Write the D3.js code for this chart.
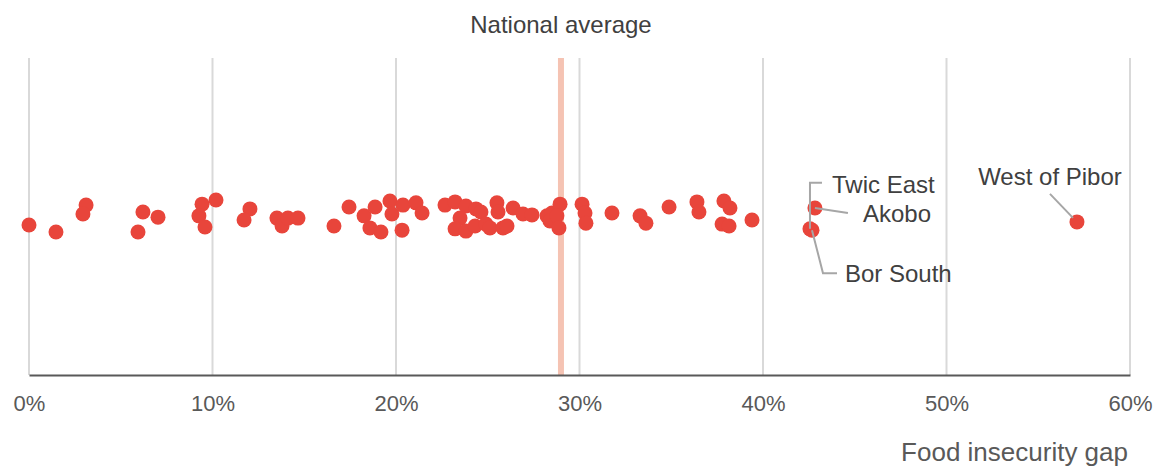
<!DOCTYPE html>
<html><head><meta charset="utf-8">
<script src="https://cdn.jsdelivr.net/npm/d3@7"></script>
<style>body{margin:0;background:#fff}svg{display:block;font-family:"Liberation Sans",Arial,sans-serif}</style>
</head><body><svg id="c" width="1155" height="468"></svg>
<script>
// Food insecurity gap (%) per county, and vertical jitter (arbitrary units)
const gapValues = [0.00,1.47,3.11,2.94,6.21,7.03,5.94,9.43,10.19,9.26,9.59,12.04,11.72,13.51,13.79,14.11,14.66,16.62,17.44,18.26,18.86,18.58,19.18,19.67,19.78,20.33,20.38,21.09,21.42,22.67,23.22,23.81,24.36,23.49,23.22,23.81,24.31,24.63,24.90,25.50,25.56,25.12,25.83,26.05,26.38,26.92,27.41,28.23,28.50,28.39,28.94,28.77,28.88,30.14,30.30,30.35,31.77,33.30,33.62,34.88,36.40,36.51,37.87,38.20,37.77,38.15,39.40,42.83,42.67,42.56,57.11];
const jitterValues = [-0.27,-0.49,0.36,0.08,0.14,-0.02,-0.49,0.39,0.52,0.02,-0.33,0.24,-0.11,-0.05,-0.30,-0.05,-0.05,-0.30,0.30,0.02,0.30,-0.36,-0.49,0.49,0.08,-0.43,0.36,0.43,0.11,0.36,0.46,0.33,0.24,-0.05,-0.39,-0.46,-0.30,0.14,-0.24,0.43,0.14,-0.36,-0.36,-0.30,0.27,0.08,0.05,0.02,0.11,-0.14,0.39,0.02,-0.36,0.39,0.11,-0.21,0.11,0.02,-0.21,0.30,0.46,0.14,0.49,0.27,-0.24,-0.30,-0.11,0.27,-0.43,-0.39,-0.17];
const countyNames = {67:"Akobo",68:"Bor South",69:"Twic East",70:"West of Pibor"};
const nationalAverage = 28.99;
const xTicks = [0,10,20,30,40,50,60];
const xTickLabels = ["0%","10%","20%","30%","40%","50%","60%"];
const xTitle = "Food insecurity gap";
const avgLabel = "National average";

const svg = d3.select("#c");
const x = d3.scaleLinear().domain([0,60]).range([29,1130]);
const y = d3.scaleLinear().domain([-5,5]).range([375,58]);

// gridlines
svg.append("g").selectAll("line").data(xTicks).join("line")
  .attr("x1",d=>x(d)).attr("x2",d=>x(d)).attr("y1",58).attr("y2",375)
  .attr("stroke","#d9d9d9").attr("stroke-width",2);

// national average band
svg.append("line").attr("x1",x(nationalAverage)).attr("x2",x(nationalAverage))
  .attr("y1",58).attr("y2",375).attr("stroke","#f5c3b3").attr("stroke-width",6);
svg.append("text").attr("x",x(nationalAverage)).attr("y",33).attr("text-anchor","middle")
  .attr("font-size",24).attr("fill","#404040").text(avgLabel);

// axis
const axis = d3.axisBottom(x).tickValues(xTicks).tickFormat((d,i)=>xTickLabels[i]).tickSize(0).tickPadding(20);
const ag = svg.append("g").attr("transform","translate(0,375)").call(axis);
ag.select(".domain").attr("stroke","#595959").attr("stroke-width",2);
ag.selectAll("text").attr("font-size",22).attr("fill","#595959").attr("font-family","Liberation Sans, Arial, sans-serif");
svg.append("text").attr("x",1128).attr("y",461).attr("text-anchor","end")
  .attr("font-size",26).attr("fill","#595959").text(xTitle);

// dots
const data = gapValues.map((g,i)=>({g, j:jitterValues[i], name:countyNames[i]}));
svg.append("g").selectAll("circle").data(data).join("circle")
  .attr("cx",d=>x(d.g)).attr("cy",d=>y(d.j)).attr("r",7.5).attr("fill","#e8453b");

// annotations
const lead = svg.append("g").attr("fill","none").attr("stroke","#a6a6a6").attr("stroke-width",2);
const txt = svg.append("g").attr("font-size",24).attr("fill","#404040");
data.filter(d=>d.name).forEach(d=>{
  const cx = x(d.g), cy = y(d.j);
  if(d.name==="Twic East"){
    lead.append("path").attr("d",`M${cx},${cy}V${cy-46}H${cx+12}`);
    txt.append("text").attr("x",cx+22).attr("y",cy-36).text(d.name);
  } else if(d.name==="Akobo"){
    lead.append("path").attr("d",`M${cx},${cy}L${cx+33},${cy+5}`);
    txt.append("text").attr("x",cx+48).attr("y",cy+14).text(d.name);
  } else if(d.name==="Bor South"){
    lead.append("path").attr("d",`M${cx},${cy}L${cx+11},${cy+43}H${cx+25}`);
    txt.append("text").attr("x",cx+33).attr("y",cy+52).text(d.name);
  } else if(d.name==="West of Pibor"){
    lead.append("path").attr("d",`M${cx-4},${cy-4}L${cx-27},${cy-28}`);
    txt.append("text").attr("x",cx-27).attr("y",cy-37).attr("text-anchor","middle").text(d.name);
  }
});
</script></body></html>
